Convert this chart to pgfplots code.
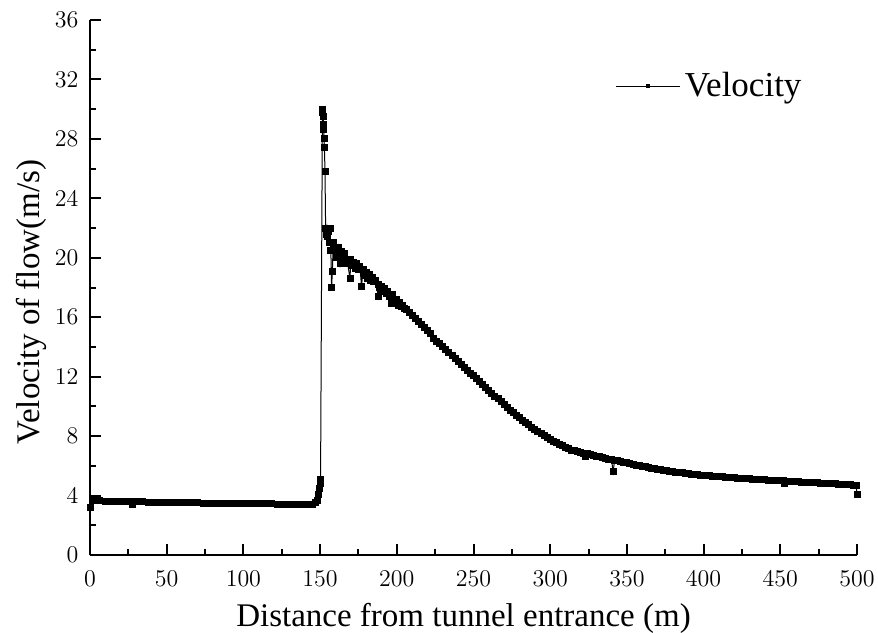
\documentclass[border=0pt]{standalone}
\usepackage{fontspec}
\setmainfont{Liberation Serif}
\usepackage{pgfplots}
\pgfplotsset{compat=1.18}
\begin{document}
\begin{tikzpicture}
\begin{axis}[
  name=ax, scale only axis, width=383.5pt, height=267.5pt,
  xmin=0, xmax=500, ymin=0, ymax=36,
  axis x line*=bottom, axis y line*=left,
  axis line style={line width=1pt, -},
  xtick={0,50,...,500}, ytick={0,4,...,36},
  minor x tick num=1, minor y tick num=1,
  tick align=inside, major tick length=5.5pt, minor tick length=3pt,
  every tick/.style={line width=1pt, black},
  tick label style={font=\fontsize{12.5}{13}\selectfont},
  xticklabel style={yshift=-4.5pt},
  yticklabel style={xshift=-2.3pt},
  clip=false,
  xlabel={Distance from tunnel entrance (m)},
  ylabel={Velocity of flow(m/s)},
  label style={font=\fontsize{16.5}{18}\selectfont},
  xlabel style={at={(axis description cs:0.487,-0.1327)}, anchor=base},
  ylabel style={at={(axis description cs:-0.066,0.473)}, rotate=0, anchor=base},
  legend style={draw=none, fill=none, inner sep=0pt, at={(axis description cs:0.685,0.8766)}, anchor=west, font=\fontsize{17.5}{19}\selectfont},
  legend image code/.code={\draw[mark size=0.8pt, mark repeat=2, mark phase=2] plot coordinates {(0pt,0pt) (16pt,0pt) (32pt,0pt)};},
]
\addplot[black, line width=0.5pt, mark=square*, mark size=1.5pt] coordinates {
(0,3.2) (2,3.65) (6,3.64) (10,3.63) (14,3.62) (18,3.61) (22,3.60) (26,3.59) (28,3.40) (30,3.58)
(34,3.57) (38,3.56) (42,3.55) (46,3.54) (50,3.53) (54,3.52) (58,3.52) (62,3.51) (66,3.50) (70,3.50)
(74,3.49) (78,3.49) (82,3.48) (86,3.48) (90,3.47) (94,3.47) (98,3.46) (102,3.46) (106,3.45) (110,3.45)
(114,3.44) (118,3.44) (122,3.43) (126,3.43) (130,3.42) (134,3.42) (138,3.42) (142,3.42) (145,3.43)
(147,3.5) (148,3.7) (149,4.1) (149.5,4.5) (150,4.8) (150.3,5.1)
(151.5,30.0) (151.8,29.8) (152.0,29.5) (152.2,29.0) (152.4,28.6) (152.6,28.0) (152.8,27.4) (153.2,25.8)
(153.6,22.0) (154.0,21.6) (154.5,22.0) (155,21.4) (155.5,21.8) (156,21.0) (156.5,22.0) (157,20.5)
(157.5,18.0) (158,19.1) (158.5,20.8) (159,21.0) (160,20.5) (161,20.0) (162,20.7) (163,19.6) (164,20.4)
(165,20.0) (166,20.3) (167,19.8) (168,19.6) (169.5,18.6) (170,19.9) (171,19.5) (172,19.7) (173,19.3)
(174,19.6) (175,19.2) (176,19.4) (177,18.05) (178,19.2) (179,18.8) (180,19.0) (181,18.6) (182,18.9)
(183,18.5) (184,18.7) (185,18.4) (186,18.5) (187.9,17.4) (188,18.2) (189,18.0) (190,18.1) (191,17.7)
(192,17.9) (193,17.6) (194,17.7) (195,17.4) (196.6,16.9) (197,17.5) (198,17.2) (199,17.0) (200,17.2)
(201,16.8) (202,17.0) (203,16.7) (204,16.8) (205,16.6)
(206,16.5) (208,16.3) (210,16.1) (212,15.9) (214,15.7) (216,15.5) (218,15.3) (220,15.1) (222,14.9)
(224,14.6) (226,14.4) (228,14.2) (230,14.0) (232,13.8) (234,13.6) (236,13.4) (238,13.2) (240,13.0)
(242,12.8) (244,12.6) (246,12.4) (248,12.22) (250,12.05) (252,11.85) (254,11.65) (256,11.45) (258,11.25)
(260,11.05) (262,10.85) (264,10.68) (266,10.5) (268,10.3) (270,10.1) (272,9.92) (274,9.75) (276,9.57)
(278,9.4) (280,9.22) (282,9.05) (284,8.9) (286,8.75) (288,8.6) (290,8.45) (292,8.3) (294,8.15)
(296,8.02) (298,7.9) (300,7.77) (302,7.65) (304,7.55) (306,7.45) (308,7.35) (310,7.25) (312,7.15)
(314,7.05) (316,7.0) (318,6.95) (320,6.9) (322,6.85) (322.7,6.66) (324,6.8) (326,6.75) (328,6.7)
(330,6.65) (332,6.6) (334,6.55) (336,6.5) (338,6.45) (340,6.41) (341,5.6) (342,6.38) (344,6.34)
(346,6.3) (348,6.25) (350,6.2) (352,6.15) (354,6.1) (356,6.05) (358,6.0) (360,5.96) (362,5.93)
(364,5.89) (366,5.85) (368,5.81) (370,5.78) (372,5.74) (374,5.7) (376,5.66) (378,5.63) (380,5.6)
(382,5.57) (384,5.54) (386,5.52) (388,5.49) (390,5.47) (392,5.44) (394,5.42) (396,5.4) (398,5.38)
(400,5.36) (402,5.34) (404,5.32) (406,5.3) (408,5.28) (410,5.27) (412,5.25) (414,5.24) (416,5.22)
(418,5.21) (420,5.19) (422,5.18) (424,5.16) (426,5.15) (428,5.13) (430,5.12) (432,5.1) (434,5.09)
(436,5.07) (438,5.06) (440,5.05) (442,5.04) (444,5.02) (446,5.01) (448,5.0) (450,4.99) (452,4.98)
(453,4.8) (454,4.97) (456,4.95) (458,4.94) (460,4.93) (462,4.92) (464,4.91) (466,4.9) (468,4.88)
(470,4.87) (472,4.86) (474,4.85) (476,4.84) (478,4.83) (480,4.81) (482,4.8) (484,4.79) (486,4.78)
(488,4.77) (490,4.76) (492,4.75) (494,4.74) (496,4.73) (498,4.71) (499.5,4.7) (500,4.1)
};
\addlegendentry{Velocity}
\end{axis}
\pgfresetboundingbox
\path[use as bounding box] ([shift={(-45pt,-38.5pt)}]ax.south west) rectangle ++(439pt,316pt);
\end{tikzpicture}
\end{document}
